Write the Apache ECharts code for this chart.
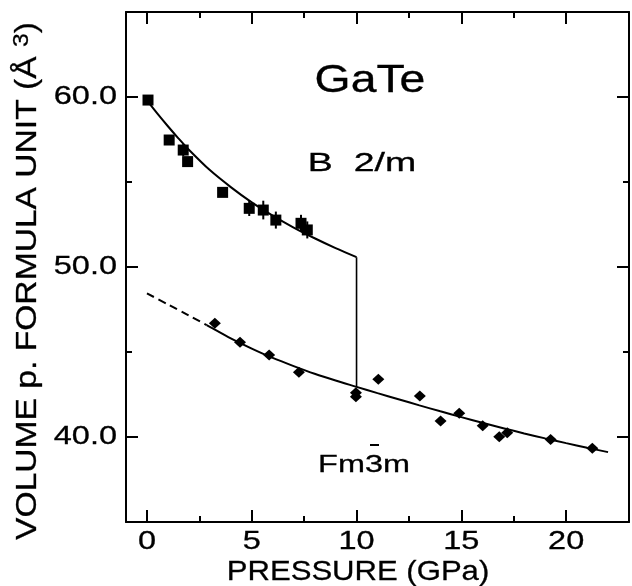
<!DOCTYPE html>
<html>
<head>
<meta charset="utf-8">
<script src="https://cdn.jsdelivr.net/npm/echarts@6/dist/echarts.min.js"></script>
<style>
  html, body { margin: 0; padding: 0; background: #fff; }
  #chart { width: 632px; height: 586px; }
</style>
</head>
<body>
<div id="chart"></div>
<script>
// Axis ticks (GPa and Å^3)
const pressureTicks = [0, 5, 10, 15, 20];
const pressureMinorTicks = [2.5, 7.5, 12.5, 17.5];
const volumeTicks = [40, 50, 60];
const volumeMinorTicks = [45, 55];

// Monoclinic B2/m phase: measured volumes and vertical error bars
const b2mPressure = [0.05, 1.06, 1.73, 1.94, 3.61, 4.88, 5.55, 6.15, 7.35, 7.65];
const b2mVolume   = [59.82, 57.47, 56.88, 56.2, 54.39, 53.45, 53.35, 52.76, 52.57, 52.18];
const b2mError    = [0, 0, 0.35, 0, 0, 0.45, 0.55, 0.5, 0.5, 0.5];

// B2/m equation-of-state curve
const b2mFitPressure = [0, 0.5, 1, 1.5, 2, 3, 4, 5, 6, 7, 8, 9, 10];
const b2mFitVolume   = [59.8, 59.02, 58.28, 57.57, 56.9, 55.7, 54.7, 53.8, 53.02, 52.32, 51.69, 51.11, 50.58];

// Volume collapse at the transition pressure
const stepPressure = [10, 10];
const stepVolume   = [50.58, 42.95];

// Cubic Fm-3m phase: measured volumes
const fm3mPressure = [3.24, 4.44, 5.83, 7.25, 9.97, 9.97, 11.04, 13.02, 14.01, 14.9, 16.02, 16.81, 17.19, 19.26, 21.25];
const fm3mVolume   = [46.69, 45.57, 44.82, 43.81, 42.61, 42.37, 43.39, 42.41, 40.94, 41.39, 40.66, 40.02, 40.25, 39.86, 39.34];

// Fm-3m curve: extrapolated part (dashed) and fitted range (solid)
const fm3mExtrapPressure = [0, 1, 2, 2.85];
const fm3mExtrapVolume   = [48.45, 47.8, 47.15, 46.58];
const fm3mFitPressure = [2.85, 3, 4, 5, 6, 7, 8, 9, 10, 11, 12, 13, 14, 15, 16, 17, 18, 19, 20, 21, 22];
const fm3mFitVolume   = [46.58, 46.48, 45.8, 45.2, 44.65, 44.17, 43.72, 43.32, 42.95, 42.58, 42.22, 41.86, 41.51, 41.17, 40.84, 40.52, 40.21, 39.92, 39.64, 39.37, 39.11];

const zip = (xs, ys) => xs.map((x, i) => [x, ys[i]]);

const INK = '#000';
const FONT = '"Liberation Sans", Arial, sans-serif';
const WIDE = 1.3;          // horizontal stretch of the lettering
const HEAVY = { stroke: INK, lineWidth: 0.3 };   // slightly heavier glyph strokes
const X_MIN = -1, X_MAX = 23, Y_MIN = 35, Y_MAX = 65;

function axisDef(kind, position, ticks, len, withLine) {
  return {
    type: 'value', position,
    min: kind === 'x' ? X_MIN : Y_MIN,
    max: kind === 'x' ? X_MAX : Y_MAX,
    axisLine: { show: withLine, onZero: false, lineStyle: { color: INK, width: 2 } },
    axisTick: { show: true, inside: true, length: len, customValues: ticks, lineStyle: { color: INK, width: 2 } },
    axisLabel: { show: false },
    splitLine: { show: false }
  };
}

// tick labels placed through the axes' own scales, drawn with stretched lettering
function tickLabelSeries(values, toPoint, place, fmt) {
  return {
    type: 'custom', silent: true, clip: false, z: 5,
    data: values.map(toPoint),
    renderItem: (params, api) => {
      const pt = api.coord([api.value(0), api.value(1)]);
      const o = place(pt);
      const raw = o.axis === 'x' ? api.value(0) : api.value(1);
      return {
        type: 'text', x: o.x, y: o.y, scaleX: WIDE,
        style: Object.assign({ text: fmt(raw), align: o.align, verticalAlign: 'middle',
                 font: '25px ' + FONT, fill: INK }, HEAVY)
      };
    }
  };
}

function label(text, x, y, size, scaleX, extra) {
  return Object.assign({ type: 'text', x, y, scaleX,
    style: Object.assign({ text, align: 'center', verticalAlign: 'middle', font: size + 'px ' + FONT, fill: INK }, HEAVY)
  }, extra || {});
}

const errorBars = b2mPressure.map((p, i) => [p, b2mVolume[i], b2mError[i]]).filter(d => d[2] > 0);

const chart = echarts.init(document.getElementById('chart'), null, { renderer: 'canvas' });
chart.setOption({
  backgroundColor: '#fff',
  animation: false,
  grid: { left: 126, right: 3, top: 12, bottom: 64, containLabel: false },
  xAxis: [
    axisDef('x', 'bottom', pressureTicks, 12, true),
    axisDef('x', 'bottom', pressureMinorTicks, 6, false),
    axisDef('x', 'top', pressureTicks, 12, true),
    axisDef('x', 'top', pressureMinorTicks, 6, false)
  ],
  yAxis: [
    axisDef('y', 'left', volumeTicks, 12, true),
    axisDef('y', 'left', volumeMinorTicks, 6, false),
    axisDef('y', 'right', volumeTicks, 12, true),
    axisDef('y', 'right', volumeMinorTicks, 6, false)
  ],
  graphic: [
    label('GaTe', 370, 82, 38, 1.22),
    label('B  2/m', 362, 164, 25, 1.5),
    { type: 'group', x: 364, y: 465, children: [
      label('Fm3m', 0, 0, 24, 1.35),
      { type: 'line', shape: { x1: 6, y1: -20, x2: 15, y2: -20 }, style: { stroke: INK, lineWidth: 2 } }
    ] },
    label('PRESSURE (GPa)', 358, 572, 28, 1.11),
    { type: 'text', x: 28, y: 281, rotation: Math.PI / 2, scaleX: 1.12,
      style: Object.assign({ text: 'VOLUME p. FORMULA UNIT (Å {sup|3})', align: 'center', verticalAlign: 'middle',
        font: '30px ' + FONT, fill: INK,
        rich: { sup: Object.assign({ font: '22px ' + FONT, fill: INK, padding: [0, 0, 12, 0] }, HEAVY) } }, HEAVY) }
  ],
  series: [
    {
      type: 'line', name: 'B2/m fit', data: zip(b2mFitPressure, b2mFitVolume), smooth: 0.3,
      symbol: 'none', lineStyle: { color: INK, width: 2 }, z: 2
    },
    {
      type: 'line', name: 'transition', data: zip(stepPressure, stepVolume),
      symbol: 'none', lineStyle: { color: INK, width: 1.6 }, z: 2
    },
    {
      type: 'line', name: 'Fm3m extrapolation', data: zip(fm3mExtrapPressure, fm3mExtrapVolume), smooth: 0.3,
      symbol: 'none', lineStyle: { color: INK, width: 2, type: [8, 5] }, z: 2
    },
    {
      type: 'line', name: 'Fm3m fit', data: zip(fm3mFitPressure, fm3mFitVolume), smooth: 0.3,
      symbol: 'none', lineStyle: { color: INK, width: 2 }, z: 2
    },
    {
      type: 'custom', name: 'B2/m error', data: errorBars, z: 3,
      renderItem: (params, api) => {
        const p = api.value(0), v = api.value(1), e = api.value(2);
        const top = api.coord([p, v + e]);
        const bot = api.coord([p, v - e]);
        return { type: 'line', shape: { x1: top[0], y1: top[1], x2: bot[0], y2: bot[1] },
                 style: { stroke: INK, lineWidth: 2 } };
      }
    },
    {
      type: 'scatter', name: 'B2/m', data: zip(b2mPressure, b2mVolume),
      symbol: 'rect', symbolSize: 11, itemStyle: { color: INK, opacity: 1 }, z: 4
    },
    {
      type: 'scatter', name: 'Fm3m', data: zip(fm3mPressure, fm3mVolume),
      symbol: 'diamond', symbolSize: [12, 11], itemStyle: { color: INK, opacity: 1 }, z: 4
    },
    tickLabelSeries(pressureTicks, v => [v, Y_MIN],
      pt => ({ axis: 'x', x: pt[0], y: pt[1] + 20, align: 'center' }), v => String(v)),
    tickLabelSeries(volumeTicks, v => [X_MIN, v],
      pt => ({ axis: 'y', x: pt[0] - 9, y: pt[1], align: 'right' }), v => v.toFixed(1))
  ]
});
</script>
</body>
</html>
